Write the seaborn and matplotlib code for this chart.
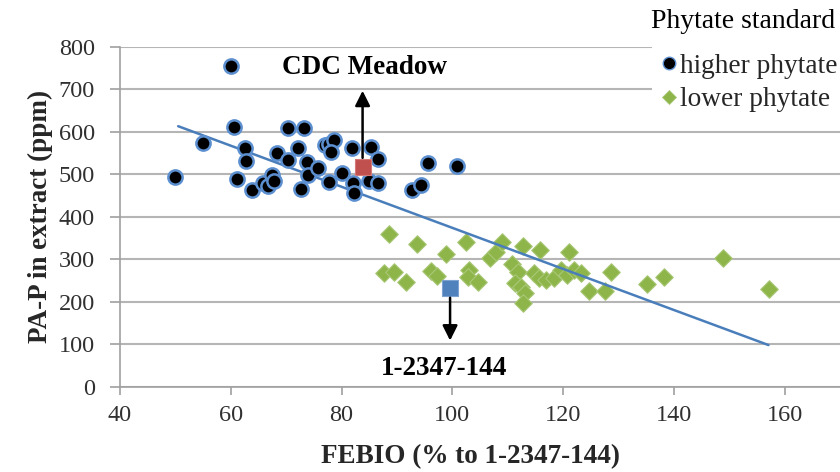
import numpy as np
import pandas as pd
import matplotlib
matplotlib.use("Agg")
import matplotlib.pyplot as plt
import seaborn as sns
from matplotlib.lines import Line2D
from matplotlib.patches import Rectangle

# ---- data ----
hi_x = [50.0, 55.0, 60.1, 60.6, 61.2, 62.5, 62.7, 63.9, 65.8, 66.8, 67.4, 67.8, 68.4,
        70.4, 70.4, 72.1, 73.2, 72.6, 73.8, 74.0, 75.7, 77.7, 77.0, 77.8, 78.6, 78.1,
        80.0, 81.8, 82.1, 82.3, 85.3, 86.5, 85.0, 86.6, 92.7, 94.3, 95.6, 100.8]
hi_y = [493, 574, 754, 610, 489, 561, 530, 463, 480, 472, 499, 485, 549,
        608, 534, 561, 608, 465, 528, 498, 515, 482, 569, 572, 581, 553,
        504, 561, 480, 456, 565, 536, 484, 480, 463, 474, 526, 520]

lo_x = [88.6, 93.7, 98.8, 102.4, 106.8, 107.9, 108.9, 87.7, 89.4, 91.6, 96.1, 97.3,
        103.1, 102.8, 104.6, 110.7, 111.9, 111.4, 112.4, 113.2, 112.8, 112.7, 114.8,
        115.7, 115.8, 116.9, 118.4, 119.6, 120.8, 121.1, 122.0, 123.2, 124.7, 127.6,
        128.6, 135.2, 138.2, 148.9, 157.2]
lo_y = [359, 335, 312, 340, 302, 318, 341, 267, 269, 247, 273, 261,
        275, 259, 247, 288, 269, 245, 234, 221, 198, 332, 267,
        255, 322, 251, 256, 275, 264, 316, 275, 268, 226, 226,
        271, 242, 257, 302, 229]

cdc_x, cdc_y = [83.8], [516]
ref_x, ref_y = [99.6], [232]

trend_x = [50.5, 157.1]
trend_y = [613, 98]

x_ticks = [40, 60, 80, 100, 120, 140, 160]
y_ticks = [0, 100, 200, 300, 400, 500, 600, 700, 800]

series_labels = ['higher phytate', 'lower phytate']
legend_title = 'Phytate standard'

# ---- styling ----
sns.set_style("white")
plt.rcParams['font.family'] = ['Liberation Serif', 'DejaVu Serif']

fig = plt.figure(figsize=(8.4, 4.72), dpi=100)
ax = fig.add_axes([0.1429, 0.1807, 0.857, 0.7203])

ax.set_xlim(40, 170)
ax.set_ylim(0, 800)
ax.set_xticks(x_ticks)
ax.set_yticks(y_ticks)
ax.yaxis.grid(True, color='#B5B5B5', linewidth=1.5)
ax.xaxis.grid(False)
ax.set_axisbelow(True)
for s in ['top', 'right']:
    ax.spines[s].set_visible(False)
for s in ['left', 'bottom']:
    ax.spines[s].set_color('#A0A0A0')
    ax.spines[s].set_linewidth(1.2)
ax.tick_params(axis='x', which='both', direction='out', length=6, width=1.2,
               color='#A0A0A0', labelsize=17.5, labelcolor='#303030', pad=7, bottom=True)
ax.tick_params(axis='y', which='both', direction='out', length=7, width=1.2,
               color='#A0A0A0', labelsize=17.5, labelcolor='#303030', pad=11, left=True)

df_hi = pd.DataFrame({'x': hi_x, 'y': hi_y})
df_lo = pd.DataFrame({'x': lo_x, 'y': lo_y})

sns.scatterplot(data=df_lo, x='x', y='y', ax=ax, marker='D', s=80,
                color='#8DB54A', edgecolor='#A9C878', linewidth=0.8, zorder=3)
sns.lineplot(x=trend_x, y=trend_y, ax=ax, color='#4A7EBB', linewidth=1.8, zorder=4)
sns.scatterplot(data=df_hi, x='x', y='y', ax=ax, marker='o', s=105,
                color='#000000', edgecolor='#5B8FD0', linewidth=1.8, zorder=5)
sns.scatterplot(x=cdc_x, y=cdc_y, ax=ax, marker='s', s=140,
                color='#C0504D', edgecolor='#D47A78', linewidth=0.8, zorder=6)
sns.scatterplot(x=ref_x, y=ref_y, ax=ax, marker='s', s=140,
                color='#4F81BD', edgecolor='#7FA3D0', linewidth=0.8, zorder=6)

# arrows and annotations
ax.annotate('', xy=(cdc_x[0], 703), xytext=(cdc_x[0], 532),
            arrowprops=dict(arrowstyle='-|>,head_length=0.9,head_width=0.45',
                            color='black', lw=1.8), zorder=7)
ax.annotate('', xy=(ref_x[0], 102), xytext=(ref_x[0], 216),
            arrowprops=dict(arrowstyle='-|>,head_length=0.9,head_width=0.45',
                            color='black', lw=1.8), zorder=7)
ax.text(84.1, 750, 'CDC Meadow', ha='center', va='center', fontsize=19.5,
        fontweight='bold', color='black', zorder=8)
ax.text(98.6, 44, '1-2347-144', ha='center', va='center', fontsize=19.5,
        fontweight='bold', color='black', zorder=8)

ax.set_xlabel('FEBIO (% to 1-2347-144)', fontsize=19.5, fontweight='bold', labelpad=13)
ax.xaxis.label.set_x(0.487)
ax.set_ylabel('PA-P in extract (ppm)', fontsize=19.5, fontweight='bold', labelpad=4)

# legend area: white background, title, entries
fig.patches.append(Rectangle((652 / 840, 1 - 118 / 472), 190 / 840, 118 / 472,
                             transform=fig.transFigure, facecolor='white',
                             edgecolor='none', zorder=1))
fig.text(651 / 840, 1 - 22 / 472, legend_title, ha='left', va='center',
         fontsize=20, color='black', zorder=2)

handles = [
    Line2D([0], [0], marker='o', linestyle='none', markersize=9,
           markerfacecolor='black', markeredgecolor='#5B8FD0', markeredgewidth=1.0),
    Line2D([0], [0], marker='D', linestyle='none', markersize=7,
           markerfacecolor='#8DB54A', markeredgecolor='#A9C878', markeredgewidth=0.6),
]
leg = fig.legend(handles, series_labels,
                 loc='center left', bbox_to_anchor=(0.762, 1 - 83 / 472), fontsize=19.7,
                 frameon=False, handlelength=0.6, handletextpad=0.1, labelspacing=0.3,
                 borderpad=0.25)
leg.set_zorder(3)

fig.savefig('out.png', dpi=100)
